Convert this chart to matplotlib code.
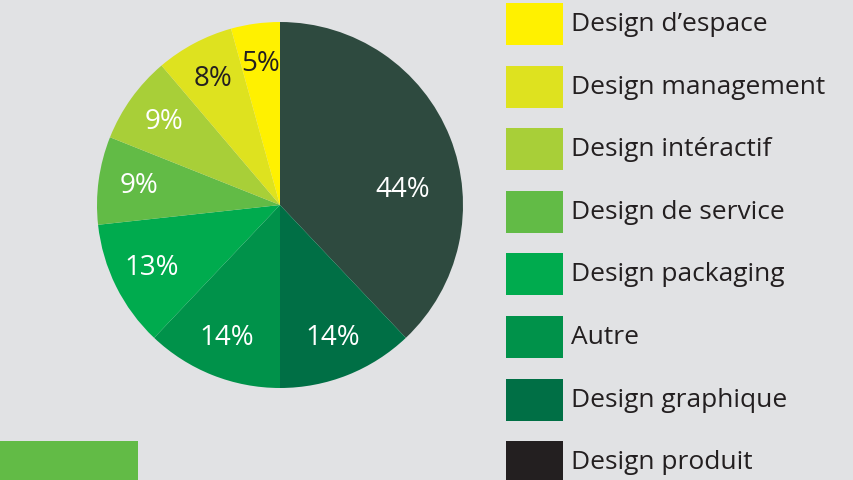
import matplotlib
matplotlib.use("Agg")
import matplotlib.pyplot as plt
from matplotlib.patches import Rectangle

# données
pie_values = [44, 14, 14, 13, 9, 9, 8, 5]
pie_colors = ['#2e4a3f', '#006f45', '#00924a', '#00ab4e', '#62bb46', '#a8cf38', '#dee21f', '#fff100']
pie_text_colors = ['white', 'white', 'white', 'white', 'white', 'white', '#231f20', '#231f20']

legend_labels = ["Design d\u2019espace", "Design management", "Design intéractif", "Design de service",
                 "Design packaging", "Autre", "Design graphique", "Design produit"]
legend_colors = ['#fff100', '#dee21f', '#a8cf38', '#62bb46', '#00ab4e', '#00924a', '#006f45', '#231f20']

bg = '#e1e2e4'

fig = plt.figure(figsize=(8.54, 4.8), dpi=100)
fig.patch.set_facecolor(bg)

# camembert
ax = fig.add_axes([97 / 854, 92 / 480, 366 / 854, 366 / 480])
ax.set_facecolor(bg)
wedges, texts = ax.pie(pie_values, colors=pie_colors, startangle=90, counterclock=False,
                       labels=[f"{v}%" for v in pie_values], labeldistance=0.78,
                       wedgeprops=dict(linewidth=0),
                       textprops=dict(ha='center', va='center', fontsize=20, family='Open Sans'))
for t, c in zip(texts, pie_text_colors):
    t.set_color(c)
# l'étiquette 44% est placée plus bas dans l'original
texts[0].set_position((0.67, 0.08))
ax.set_xlim(-1, 1)
ax.set_ylim(-1, 1)
ax.set_aspect('equal')

# légende
lax = fig.add_axes([0, 0, 1, 1])
lax.set_xlim(0, 854)
lax.set_ylim(480, 0)
lax.axis('off')
for i, (lab, col) in enumerate(zip(legend_labels, legend_colors)):
    y0 = 3 + i * 62.6
    lax.add_patch(Rectangle((506, y0), 57, 42, facecolor=col, edgecolor='none'))
    lax.text(571, y0 + 21.5, lab, ha='left', va='center', fontsize=19, color='#231f20', family='Open Sans')

# bandeau vert en bas à gauche
lax.add_patch(Rectangle((0, 441), 138, 40, facecolor='#62bb46', edgecolor='none'))

fig.savefig("out.png", dpi=100, facecolor=bg)
